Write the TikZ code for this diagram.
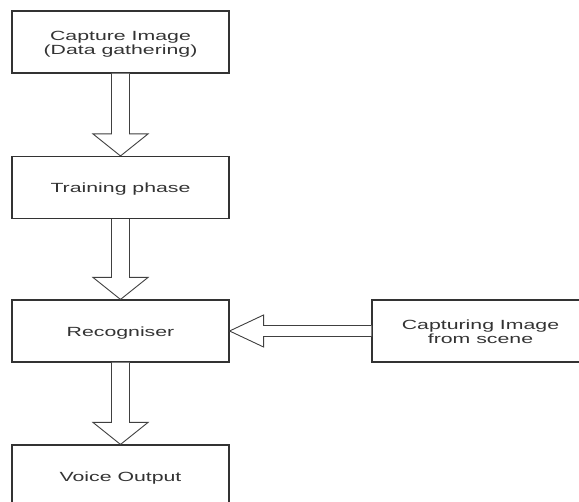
\documentclass[tikz,border=0pt]{standalone}
\usepackage{fontspec}
\setmainfont{Liberation Sans}
\usepackage{graphicx}
\usepackage{tikz}
\usetikzlibrary{calc}
\newcommand{\wide}[1]{\raisebox{-2.5pt}[\height][\depth]{\scalebox{1.6}[1]{\begin{tabular}{@{}c@{}}#1\end{tabular}}}}
\newcommand{\flowdown}[2]{\draw[block] ($(#1.south)+(-9,0)$) -- ($(#2.north)+(-9,-22)$) -- ($(#2.north)+(-27.5,-22)$) -- (#2.north) -- ($(#2.north)+(27.5,-22)$) -- ($(#2.north)+(9,-22)$) -- ($(#1.south)+(9,0)$);}
\newcommand{\flowleft}[2]{\draw[block] ($(#1.west)+(0,-5.5)$) -- ($(#2.east)+(34,-5.5)$) -- ($(#2.east)+(34,-16)$) -- (#2.east) -- ($(#2.east)+(34,16)$) -- ($(#2.east)+(34,5.5)$) -- ($(#1.west)+(0,5.5)$);}

\begin{document}
\begin{tikzpicture}[x=1pt, y=-1pt,
		box/.style={draw=black!80, line width=1.1pt, minimum width=217pt, minimum height=62pt, inner sep=0pt, text=black!80, font=\fontsize{13.3}{14}\selectfont},
		block/.style={draw=black!75, line width=0.9pt, fill=white, line join=miter}]
		\useasboundingbox (0,0) rectangle (579,502);
		
		\node[box] (capture) at (120.5,42) {\wide{Capture Image\\(Data gathering)}};
		\node[box] (training) at (120.5,187.5) {\wide{Training phase}};
		\node[box] (recogniser) at (120.5,331) {\wide{Recogniser}};
		\node[box] (voice) at (120.5,476) {\wide{Voice Output}};
		\node[box] (scene) at (480.5,331) {\wide{Capturing Image\\from scene}};
		
		
		\flowdown{capture}{training}
		\flowdown{training}{recogniser}
		\flowdown{recogniser}{voice}
		\flowleft{scene}{recogniser}
\end{tikzpicture}
\end{document}
